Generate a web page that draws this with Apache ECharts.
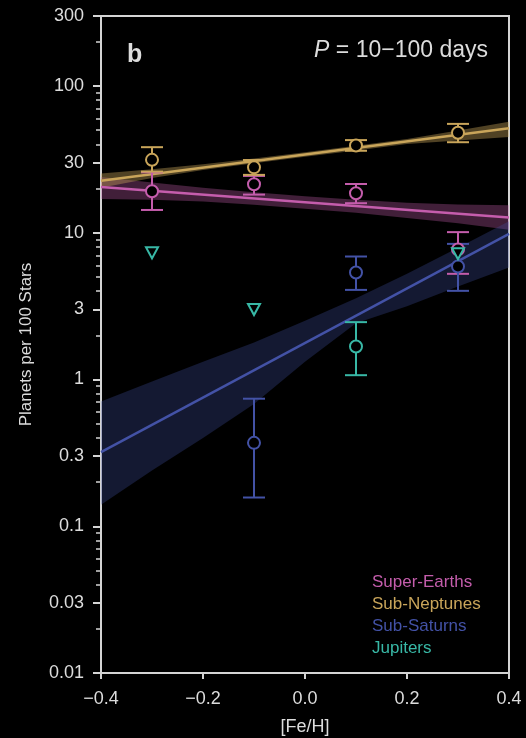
<!DOCTYPE html>
<html>
<head>
<meta charset="utf-8">
<script src="https://cdn.jsdelivr.net/npm/echarts@6/dist/echarts.min.js"></script>
<style>
html,body{margin:0;padding:0;background:#000;}
#chart{width:526px;height:738px;}
</style>
</head>
<body>
<div id="chart"></div>
<script>
// ---- data ----
const feH = [-0.3, -0.1, 0.1, 0.3];
const superEarths   = [19.2, 21.4, 18.6, 7.7];
const superEarthsLo = [14.3, 18.2, 15.9, 5.25];
const superEarthsHi = [25.8, 24.4, 21.5, 10.1];
const subNeptunes   = [31.4, 27.9, 39.3, 48.0];
const subNeptunesLo = [26.1, 24.8, 36.2, 41.4];
const subNeptunesHi = [38.3, 31.3, 42.8, 55.2];
const subSaturnsFeH = [-0.1, 0.1, 0.3];
const subSaturns    = [0.37, 5.36, 5.89];
const subSaturnsLo  = [0.157, 4.08, 4.02];
const subSaturnsHi  = [0.74, 6.89, 8.4];
const jupitersFeH   = [0.1];
const jupiters      = [1.68];
const jupitersLo    = [1.07];
const jupitersHi    = [2.46];
const jupitersLimFeH = [-0.3, -0.1, 0.3];
const jupitersLim    = [7.3, 3.0, 7.2];

const fitX = [-0.4, 0.4];
const superEarthsFit = [20.5, 12.7];
const subNeptunesFit = [22.6, 51.5];
const subSaturnsFit  = [0.32, 9.84];

const bandX = [-0.4, -0.3, -0.2, -0.1, 0.0, 0.1, 0.2, 0.3, 0.4];
const superEarthsBandHi = [24.0, 22.0, 20.3, 18.9, 17.7, 16.8, 16.0, 15.6, 15.4];
const superEarthsBandLo = [17.0, 16.8, 16.3, 15.5, 14.6, 13.7, 12.6, 11.6, 10.5];
const subNeptunesBandHi = [25.3, 27.1, 29.3, 32.1, 35.4, 39.2, 43.6, 49.8, 57.0];
const subNeptunesBandLo = [20.3, 23.6, 26.8, 29.8, 33.0, 36.4, 40.2, 42.6, 45.0];
const subSaturnsBandHi  = [0.707, 0.97, 1.32, 1.79, 2.51, 3.58, 5.25, 7.9, 12.0];
const subSaturnsBandLo  = [0.140, 0.24, 0.40, 0.68, 1.32, 2.42, 3.16, 4.3, 5.8];

const yTickLabels = [0.01, 0.03, 0.1, 0.3, 1, 3, 10, 30, 100, 300];
const yMinorTicks = [0.02, 0.04, 0.05, 0.06, 0.07, 0.08, 0.09,
                     0.2, 0.4, 0.5, 0.6, 0.7, 0.8, 0.9,
                     2, 4, 5, 6, 7, 8, 9,
                     20, 40, 50, 60, 70, 80, 90,
                     200];

// ---- styling ----
const FONT = 'Liberation Sans, Arial, Helvetica, sans-serif';
const FG = '#dcdcdc';
const C_SE = '#c45dac';
const C_SN = '#c9a55a';
const C_SS = '#4352a6';
const C_JU = '#38b8a6';

function bandSeries(name, hi, lo, fill) {
  return {
    type: 'custom', name: name, silent: true, z: 1, clip: true,
    data: [[bandX[0], hi[0]]],
    encode: {x: 0, y: 1},
    renderItem: function (params, api) {
      const pts = [];
      for (let i = 0; i < bandX.length; i++) pts.push(api.coord([bandX[i], hi[i]]));
      for (let i = bandX.length - 1; i >= 0; i--) pts.push(api.coord([bandX[i], lo[i]]));
      return {type: 'polygon', shape: {points: pts}, style: {fill: fill}};
    }
  };
}

function fitSeries(name, vals, color) {
  return {
    type: 'line', name: name, z: 3, symbol: 'none', silent: true,
    data: fitX.map((x, i) => [x, vals[i]]),
    lineStyle: {color: color, width: 2.5},
    itemStyle: {color: color}
  };
}

function errSeries(name, xs, vals, lo, hi, color) {
  return {
    type: 'custom', name: name, z: 5, silent: true,
    data: xs.map((x, i) => [x, vals[i], lo[i], hi[i]]),
    encode: {x: 0, y: 1},
    renderItem: function (params, api) {
      const x = api.value(0);
      const pLo = api.coord([x, api.value(2)]);
      const pHi = api.coord([x, api.value(3)]);
      const hw = 11;
      const st = {stroke: color, lineWidth: 2};
      return {type: 'group', children: [
        {type: 'line', shape: {x1: pLo[0], y1: pLo[1], x2: pHi[0], y2: pHi[1]}, style: st},
        {type: 'line', shape: {x1: pLo[0] - hw, y1: pLo[1], x2: pLo[0] + hw, y2: pLo[1]}, style: st},
        {type: 'line', shape: {x1: pHi[0] - hw, y1: pHi[1], x2: pHi[0] + hw, y2: pHi[1]}, style: st}
      ]};
    }
  };
}

function pointSeries(name, xs, vals, color, symbol) {
  return {
    type: 'scatter', name: name, z: 8, silent: true,
    symbol: symbol || 'circle',
    symbolSize: symbol === 'triangle' ? [12, 11] : 12,
    symbolRotate: symbol === 'triangle' ? 180 : 0,
    data: xs.map((x, i) => [x, vals[i]]),
    itemStyle: {color: '#000', borderColor: color, borderWidth: 2, opacity: 1}
  };
}

function yLabel(v) {
  const t = yTickLabels.find(t => Math.abs(Math.log10(t) - Math.log10(v)) < 1e-6);
  return t !== undefined ? String(t) : '';
}

const chart = echarts.init(document.getElementById('chart'), null, {renderer: 'canvas'});
chart.setOption({
  backgroundColor: '#000',
  animation: false,
  textStyle: {fontFamily: FONT},
  title: [
    {text: 'b', left: 122, top: 38,
     textStyle: {color: FG, fontSize: 25, fontWeight: 'bold', fontFamily: FONT}},
    {text: '{i|P} = 10\u2212100 days', right: 33, top: 34,
     textStyle: {color: FG, fontSize: 23, fontWeight: 'normal', fontFamily: FONT,
       rich: {i: {fontStyle: 'italic', fontSize: 23, color: FG, fontFamily: FONT}}}}
  ],
  legend: {
    orient: 'vertical', left: 362, top: 569,
    icon: 'none', itemWidth: 0, itemHeight: 17, itemGap: 5,
    selectedMode: false,
    textStyle: {fontSize: 17, fontFamily: FONT},
    data: [
      {name: 'Super-Earths', textStyle: {color: C_SE}},
      {name: 'Sub-Neptunes', textStyle: {color: C_SN}},
      {name: 'Sub-Saturns', textStyle: {color: C_SS}},
      {name: 'Jupiters', textStyle: {color: C_JU}}
    ]
  },
  grid: {left: 101, right: 17, top: 16, bottom: 65, show: true,
         outerBoundsMode: 'none', containLabel: false,
         borderColor: '#d4d4d4', borderWidth: 2, backgroundColor: 'transparent'},
  xAxis: {
    type: 'value', min: -0.4, max: 0.4, interval: 0.2,
    name: '[Fe/H]', nameLocation: 'middle', nameGap: 45,
    nameTextStyle: {color: FG, fontSize: 18, fontFamily: FONT},
    axisLine: {show: false, onZero: false}, splitLine: {show: false},
    axisTick: {show: true, length: 6, lineStyle: {color: '#d4d4d4', width: 2}},
    axisLabel: {color: FG, fontSize: 18, margin: 17, fontFamily: FONT,
      formatter: v => v.toFixed(1).replace('-', '\u2212')}
  },
  yAxis: [{
    type: 'log', logBase: 10, min: 0.01, max: 300, position: 'left',
    name: 'Planets per 100 Stars', nameLocation: 'middle', nameGap: 66,
    nameTextStyle: {color: FG, fontSize: 17, fontFamily: FONT},
    axisLine: {show: false, onZero: false}, splitLine: {show: false}, minorTick: {show: false},
    axisTick: {show: true, length: 8, customValues: yTickLabels,
               lineStyle: {color: '#d4d4d4', width: 2}},
    axisLabel: {color: FG, fontSize: 18, margin: 17, fontFamily: FONT,
                customValues: yTickLabels, formatter: yLabel}
  }, {
    type: 'log', logBase: 10, min: 0.01, max: 300, position: 'left',
    axisLine: {show: false, onZero: false}, splitLine: {show: false},
    axisTick: {show: true, length: 5, customValues: yMinorTicks,
               lineStyle: {color: '#d4d4d4', width: 1.5}},
    axisLabel: {show: false}
  }],
  series: [
    bandSeries('Super-Earths', superEarthsBandHi, superEarthsBandLo, 'rgba(196,93,172,0.33)'),
    bandSeries('Sub-Neptunes', subNeptunesBandHi, subNeptunesBandLo, 'rgba(201,165,90,0.40)'),
    bandSeries('Sub-Saturns', subSaturnsBandHi, subSaturnsBandLo, 'rgba(67,82,166,0.30)'),
    fitSeries('Super-Earths', superEarthsFit, C_SE),
    fitSeries('Sub-Neptunes', subNeptunesFit, C_SN),
    fitSeries('Sub-Saturns', subSaturnsFit, C_SS),
    errSeries('Super-Earths', feH, superEarths, superEarthsLo, superEarthsHi, C_SE),
    errSeries('Sub-Neptunes', feH, subNeptunes, subNeptunesLo, subNeptunesHi, C_SN),
    errSeries('Sub-Saturns', subSaturnsFeH, subSaturns, subSaturnsLo, subSaturnsHi, C_SS),
    errSeries('Jupiters', jupitersFeH, jupiters, jupitersLo, jupitersHi, C_JU),
    pointSeries('Super-Earths', feH, superEarths, C_SE),
    pointSeries('Sub-Neptunes', feH, subNeptunes, C_SN),
    pointSeries('Sub-Saturns', subSaturnsFeH, subSaturns, C_SS),
    pointSeries('Jupiters', jupitersFeH, jupiters, C_JU),
    pointSeries('Jupiters', jupitersLimFeH, jupitersLim, C_JU, 'triangle')
  ]
});
</script>
</body>
</html>
